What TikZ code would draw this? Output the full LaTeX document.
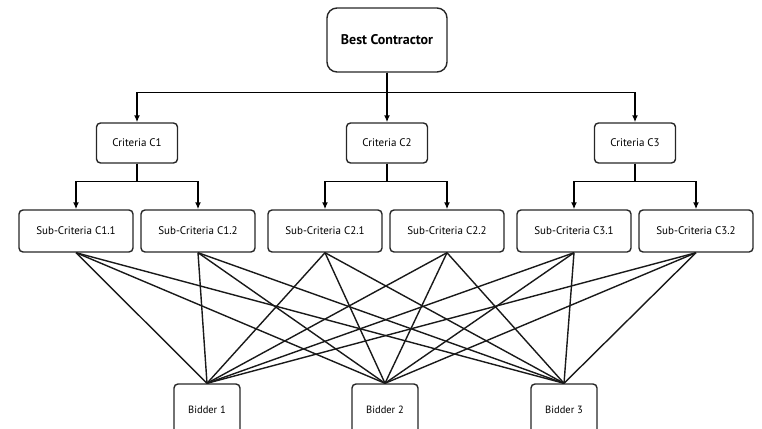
\documentclass[tikz,border=0pt]{standalone}
\usepackage{fontspec}
\setmainfont{PT Sans}
\usetikzlibrary{arrows.meta}
\begin{document}
\begin{tikzpicture}[x=1pt,y=-1pt,
  box/.style={draw=black!85,line width=1.4pt,rounded corners=4pt,inner sep=0pt,font=\fontsize{11}{13}\selectfont},
  critbox/.style={box,minimum width=81pt,minimum height=40pt},
  subbox/.style={box,minimum width=114pt,minimum height=42pt},
  bidbox/.style={box,minimum width=66pt,minimum height=52pt,font=\fontsize{10.5}{12}\selectfont},
  arr/.style={line width=1.5pt,-{Latex[length=7pt,width=6pt]}},
  link/.style={line width=1.4pt,black!90}]
\useasboundingbox (0,0) rectangle (762,428);
\node[box,rounded corners=10pt,minimum width=120pt,minimum height=64pt,font=\fontsize{14}{16}\selectfont\bfseries] (best) at (387,40) {Best Contractor};
\node[critbox] (c1) at (137,143) {Criteria C1};
\node[critbox] (c2) at (387,143) {Criteria C2};
\node[critbox] (c3) at (635,143) {Criteria C3};
\node[subbox] (s11) at (76,231) {Sub-Criteria C1.1};
\node[subbox] (s12) at (198,231) {Sub-Criteria C1.2};
\node[subbox] (s21) at (325,231) {Sub-Criteria C2.1};
\node[subbox] (s22) at (447,231) {Sub-Criteria C2.2};
\node[subbox] (s31) at (574,231) {Sub-Criteria C3.1};
\node[subbox] (s32) at (696,231) {Sub-Criteria C3.2};
\node[bidbox] (b1) at (207,410) {Bidder 1};
\node[bidbox] (b2) at (385,410) {Bidder 2};
\node[bidbox] (b3) at (564,410) {Bidder 3};
% top level
\draw[arr] (best.south) -- ++(0,20) -| (c1.north);
\draw[arr] (best.south) -- ++(0,20) -| (c3.north);
\draw[arr] (best.south) -- (c2.north);
% criteria to sub-criteria
\draw[arr] (c1.south) -- ++(0,18) -| (s11.north);
\draw[arr] (c1.south) -- ++(0,18) -| (s12.north);
\draw[arr] (c2.south) -- ++(0,18) -| (s21.north);
\draw[arr] (c2.south) -- ++(0,18) -| (s22.north);
\draw[arr] (c3.south) -- ++(0,18) -| (s31.north);
\draw[arr] (c3.south) -- ++(0,18) -| (s32.north);
% sub-criteria to bidders
\foreach \s in {s11,s12,s21,s22,s31,s32}{
  \foreach \b in {b1,b2,b3}{
    \draw[link] (\s.south) -- (\b.north);
  }
}
\end{tikzpicture}
\end{document}
